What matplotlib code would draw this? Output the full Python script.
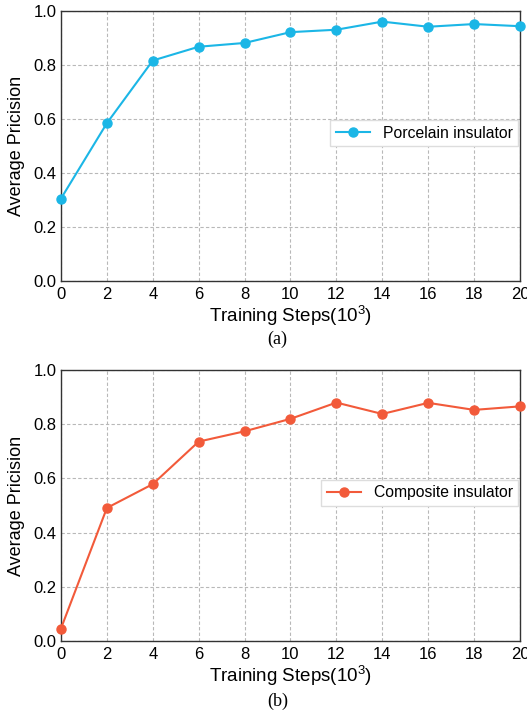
import matplotlib.pyplot as plt
import numpy as np

steps = [0, 2, 4, 6, 8, 10, 12, 14, 16, 18, 20]
ap_porcelain = [0.305, 0.584, 0.816, 0.867, 0.881, 0.921, 0.930, 0.960, 0.941, 0.951, 0.943]
ap_composite = [0.046, 0.491, 0.579, 0.736, 0.774, 0.820, 0.880, 0.838, 0.879, 0.853, 0.866]

plt.rcParams['font.family'] = ['Liberation Sans', 'DejaVu Sans']
plt.rcParams['mathtext.fontset'] = 'custom'
plt.rcParams['mathtext.rm'] = 'Liberation Sans'

fig = plt.figure(figsize=(5.27, 7.11), dpi=100)

panels = [
    ([0.1157, 0.6048, 0.871, 0.380], ap_porcelain, '#1bb6e6', 'Porcelain insulator', '(a)', 0.523),
    ([0.1157, 0.0985, 0.871, 0.381], ap_composite, '#f25a3a', 'Composite insulator', '(b)', 0.014),
]

for rect, values, color, name, caption, cap_y in panels:
    ax = fig.add_axes(rect)
    ax.plot(steps, values, color=color, marker='o', markersize=6.5, linewidth=1.5, label=name,
            clip_on=False, zorder=3)
    ax.set_xlim(0, 20)
    ax.set_ylim(0, 1.0)
    ax.set_xticks(np.arange(0, 21, 2))
    ax.set_yticks(np.arange(0, 1.01, 0.2))
    ax.tick_params(direction='in', labelsize=12, length=0, pad=3)
    ax.tick_params(axis='x', pad=4)
    ax.grid(True, linestyle=(0, (3, 2)), color='#b8b8b8', linewidth=0.8)
    for s in ax.spines.values():
        s.set_color('#333333')
        s.set_linewidth(1.0)
    ax.set_xlabel(r'Training Steps($\mathregular{10^3}$)', fontsize=13.5, labelpad=2)
    ax.set_ylabel('Average Pricision', fontsize=13, labelpad=6)
    ax.legend(loc='center right', bbox_to_anchor=(1.0, 0.547), fontsize=11.3, fancybox=False,
              framealpha=1, edgecolor='#dddddd', handlelength=2.2, borderpad=0.35,
              borderaxespad=0.1)
    fig.text(0.527, cap_y, caption, ha='center', va='center', fontsize=13,
             family=['Liberation Serif', 'DejaVu Serif'])

fig.savefig('out.png', dpi=100)
